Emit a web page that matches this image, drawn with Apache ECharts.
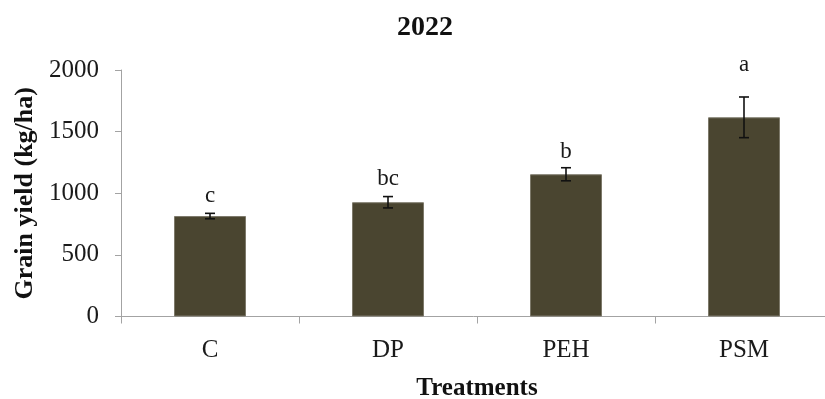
<!DOCTYPE html>
<html>
<head>
<meta charset="utf-8">
<script src="https://cdn.jsdelivr.net/npm/echarts@6/dist/echarts.min.js"></script>
<style>
  html, body { margin: 0; padding: 0; background: #ffffff; }
  #chart { width: 825px; height: 399px; }
</style>
</head>
<body>
<div id="chart"></div>
<script>
// Grain yield by treatment, 2022 season
const treatments = ['C', 'DP', 'PEH', 'PSM'];
const yieldMean = [815, 927, 1154, 1616];
const yieldErr = [22, 46, 53, 165];
const groupLetters = ['c', 'bc', 'b', 'a'];
const yTicks = [0, 500, 1000, 1500, 2000];

// pixel gap between the top of each error bar and its letter
const letterGap = [6, 6, 4, 21];

const serif = "'Liberation Serif', 'Times New Roman', serif";
const axisGray = '#a3a3a3';

const chart = echarts.init(document.getElementById('chart'), null, { renderer: 'canvas' });

const errData = treatments.map((t, i) => [i, yieldMean[i], yieldErr[i], groupLetters[i]]);

chart.setOption({
  animation: false,
  title: {
    text: '2022',
    left: 392,
    top: 9,
    textStyle: { fontFamily: serif, fontWeight: 'bold', fontSize: 28, color: '#111' }
  },
  grid: {
    left: 121, right: -8, top: 70, bottom: 82.5,
    containLabel: false,
    outerBoundsMode: 'none'
  },
  xAxis: {
    type: 'category',
    data: treatments,
    axisLine: { lineStyle: { color: axisGray, width: 1 } },
    axisTick: { show: true, length: 7, lineStyle: { color: axisGray } },
    axisLabel: { fontFamily: serif, fontSize: 25, color: '#1a1a1a', margin: 21 },
    name: 'Treatments',
    nameLocation: 'middle',
    nameGap: 60,
    nameTextStyle: { fontFamily: serif, fontWeight: 'bold', fontSize: 25, color: '#111' }
  },
  yAxis: {
    type: 'value',
    min: yTicks[0],
    max: yTicks[yTicks.length - 1],
    interval: yTicks[1] - yTicks[0],
    splitLine: { show: false },
    axisLine: { show: true, lineStyle: { color: axisGray, width: 1 } },
    axisTick: { show: true, length: 6, lineStyle: { color: axisGray } },
    axisLabel: {
      fontFamily: serif, fontSize: 25, color: '#1a1a1a', margin: 22,
      formatter: function (v) { return String(v); }
    },
    name: 'Grain yield (kg/ha)',
    nameLocation: 'middle',
    nameRotate: 90,
    nameGap: 78,
    nameTextStyle: { fontFamily: serif, fontWeight: 'bold', fontSize: 26, color: '#111' }
  },
  series: [
    {
      type: 'bar',
      data: yieldMean,
      barWidth: 72,
      itemStyle: { color: '#4a4530', borderColor: '#7d796a', borderWidth: 1 },
      z: 2
    },
    {
      type: 'custom',
      data: errData,
      z: 5,
      renderItem: function (params, api) {
        const i = api.value(0);
        const m = api.value(1);
        const e = api.value(2);
        const top = api.coord([i, m + e]);
        const bot = api.coord([i, m - e]);
        const cap = 5;
        const lineStyle = { stroke: '#111', lineWidth: 1.6 };
        return {
          type: 'group',
          children: [
            { type: 'line', shape: { x1: top[0], y1: top[1], x2: bot[0], y2: bot[1] }, style: lineStyle },
            { type: 'line', shape: { x1: top[0] - cap, y1: top[1], x2: top[0] + cap, y2: top[1] }, style: lineStyle },
            { type: 'line', shape: { x1: bot[0] - cap, y1: bot[1], x2: bot[0] + cap, y2: bot[1] }, style: lineStyle },
            {
              type: 'text',
              style: {
                text: groupLetters[params.dataIndex],
                x: top[0],
                y: top[1] - letterGap[params.dataIndex],
                textAlign: 'center',
                textVerticalAlign: 'bottom',
                fontFamily: serif,
                fontSize: 23,
                fill: '#1a1a1a'
              }
            }
          ]
        };
      }
    }
  ]
});
</script>
</body>
</html>
